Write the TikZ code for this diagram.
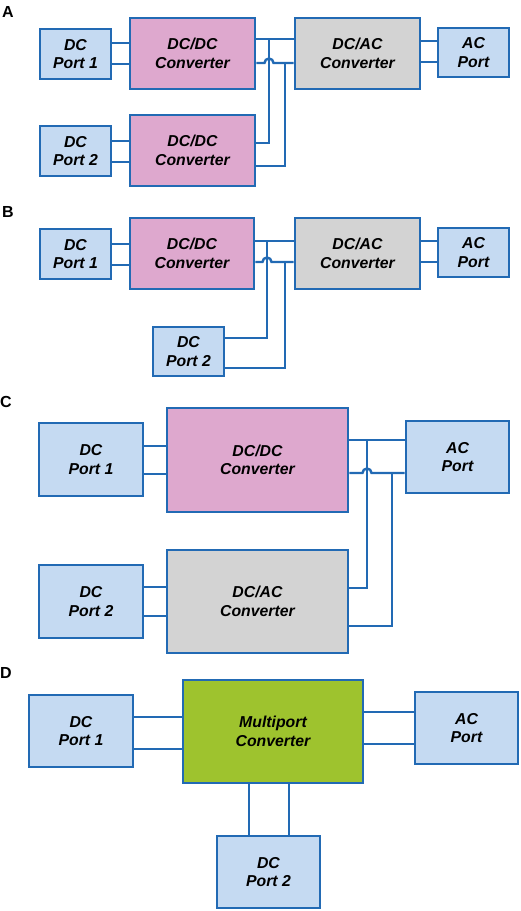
\documentclass[tikz,border=0pt]{standalone}
\usepackage{fontspec}
\setmainfont{Liberation Sans}
\definecolor{edge}{RGB}{34,106,180}
\definecolor{portfill}{RGB}{197,218,242}
\definecolor{pinkfill}{RGB}{222,168,206}
\definecolor{grayfill}{RGB}{211,211,211}
\definecolor{greenfill}{RGB}{158,195,46}
\tikzset{
  blk/.style={draw=edge, line width=2.6pt, align=center, inner sep=0pt,
    font=\fontsize{15.8}{18.5}\selectfont\bfseries\itshape},
  port/.style={blk, fill=portfill},
  dcdc/.style={blk, fill=pinkfill},
  dcac/.style={blk, fill=grayfill},
  multi/.style={blk, fill=greenfill},
  wire/.style={draw=edge, line width=2.4pt},
  plabel/.style={anchor=base west, inner sep=0pt, font=\fontsize{16}{16}\selectfont\bfseries}
}
\begin{document}
\begin{tikzpicture}[x=1pt,y=-1pt]
\useasboundingbox (0,0) rectangle (520,911);
% ---------------- Panel A
\node[plabel] (LA) at (2,17.5) {A};
\node[port, minimum width=71pt, minimum height=50pt] (a1) at (75.5,54) {DC\\Port 1};
\node[dcdc, minimum width=125pt, minimum height=71pt] (a2) at (192.5,53.5) {DC/DC\\Converter};
\node[dcac, minimum width=125pt, minimum height=71pt] (a3) at (357.5,53.5) {DC/AC\\Converter};
\node[port, minimum width=71pt, minimum height=49pt] (a4) at (473.5,52.5) {AC\\Port};
\node[port, minimum width=71pt, minimum height=50pt] (a5) at (75.5,151) {DC\\Port 2};
\node[dcdc, minimum width=125pt, minimum height=71pt] (a6) at (192.5,150.5) {DC/DC\\Converter};
\draw[wire] (a1.east|-0,43) -- (a2.west|-0,43);
\draw[wire] (a1.east|-0,64) -- (a2.west|-0,64);
\draw[wire] (a2.east|-0,39) -- (a3.west|-0,39);
\coordinate (ja1) at (269,39);
\coordinate (ja2) at (285,63);
\draw[wire] (a2.east|-0,63) -- (264.5,63) arc[start angle=180,end angle=0,radius=4.5pt] -- (a3.west|-0,63);
\draw[wire] (a3.east|-0,41) -- (a4.west|-0,41);
\draw[wire] (a3.east|-0,62) -- (a4.west|-0,62);
\draw[wire] (a5.east|-0,141) -- (a6.west|-0,141);
\draw[wire] (a5.east|-0,162) -- (a6.west|-0,162);
\draw[wire] (ja1) |- (a6.east|-0,143);
\draw[wire] (ja2) |- (a6.east|-0,166);
% ---------------- Panel B
\node[plabel] (LB) at (2,217.5) {B};
\node[port, minimum width=71pt, minimum height=50pt] (b1) at (75.5,254) {DC\\Port 1};
\node[dcdc, minimum width=124pt, minimum height=71pt] (b2) at (192,253.5) {DC/DC\\Converter};
\node[dcac, minimum width=125pt, minimum height=71pt] (b3) at (357.5,253.5) {DC/AC\\Converter};
\node[port, minimum width=71pt, minimum height=49pt] (b4) at (473.5,252.5) {AC\\Port};
\node[port, minimum width=71pt, minimum height=49pt] (b5) at (188.5,351.5) {DC\\Port 2};
\draw[wire] (b1.east|-0,244) -- (b2.west|-0,244);
\draw[wire] (b1.east|-0,265) -- (b2.west|-0,265);
\draw[wire] (b2.east|-0,241) -- (b3.west|-0,241);
\coordinate (jb1) at (267,241);
\coordinate (jb2) at (285,262);
\draw[wire] (b2.east|-0,262) -- (262.5,262) arc[start angle=180,end angle=0,radius=4.5pt] -- (b3.west|-0,262);
\draw[wire] (b3.east|-0,241) -- (b4.west|-0,241);
\draw[wire] (b3.east|-0,262) -- (b4.west|-0,262);
\draw[wire] (jb1) |- (b5.east|-0,338);
\draw[wire] (jb2) |- (b5.east|-0,368);
% ---------------- Panel C
\node[plabel] (LC) at (0,407.5) {C};
\node[port, minimum width=104pt, minimum height=73pt] (c1) at (91,459.5) {DC\\Port 1};
\node[dcdc, minimum width=181pt, minimum height=104pt] (c2) at (257.5,460) {DC/DC\\Converter};
\node[port, minimum width=103pt, minimum height=72pt] (c3) at (457.5,457) {AC\\Port};
\node[port, minimum width=104pt, minimum height=73pt] (c4) at (91,601.5) {DC\\Port 2};
\node[dcac, minimum width=181pt, minimum height=103pt] (c5) at (257.5,601.5) {DC/AC\\Converter};
\draw[wire] (c1.east|-0,446) -- (c2.west|-0,446);
\draw[wire] (c1.east|-0,474) -- (c2.west|-0,474);
\draw[wire] (c2.east|-0,440) -- (c3.west|-0,440);
\coordinate (jc1) at (367,440);
\coordinate (jc2) at (392,473);
\draw[wire] (c2.east|-0,473) -- (362.5,473) arc[start angle=180,end angle=0,radius=4.5pt] -- (c3.west|-0,473);
\draw[wire] (c4.east|-0,587) -- (c5.west|-0,587);
\draw[wire] (c4.east|-0,616) -- (c5.west|-0,616);
\draw[wire] (jc1) |- (c5.east|-0,588);
\draw[wire] (jc2) |- (c5.east|-0,626);
% ---------------- Panel D
\node[plabel] (LD) at (0,678.5) {D};
\node[port, minimum width=104pt, minimum height=72pt] (d1) at (81,731) {DC\\Port 1};
\node[multi, minimum width=180pt, minimum height=103pt] (d2) at (273,731.5) {Multiport\\Converter};
\node[port, minimum width=103pt, minimum height=72pt] (d3) at (466.5,728) {AC\\Port};
\node[port, minimum width=103pt, minimum height=72pt] (d4) at (268.5,872) {DC\\Port 2};
\draw[wire] (d1.east|-0,717) -- (d2.west|-0,717);
\draw[wire] (d1.east|-0,749) -- (d2.west|-0,749);
\draw[wire] (d2.east|-0,712) -- (d3.west|-0,712);
\draw[wire] (d2.east|-0,744) -- (d3.west|-0,744);
\draw[wire] (d2.south-|249,0) -- (d4.north-|249,0);
\draw[wire] (d2.south-|289,0) -- (d4.north-|289,0);
\end{tikzpicture}
\end{document}
